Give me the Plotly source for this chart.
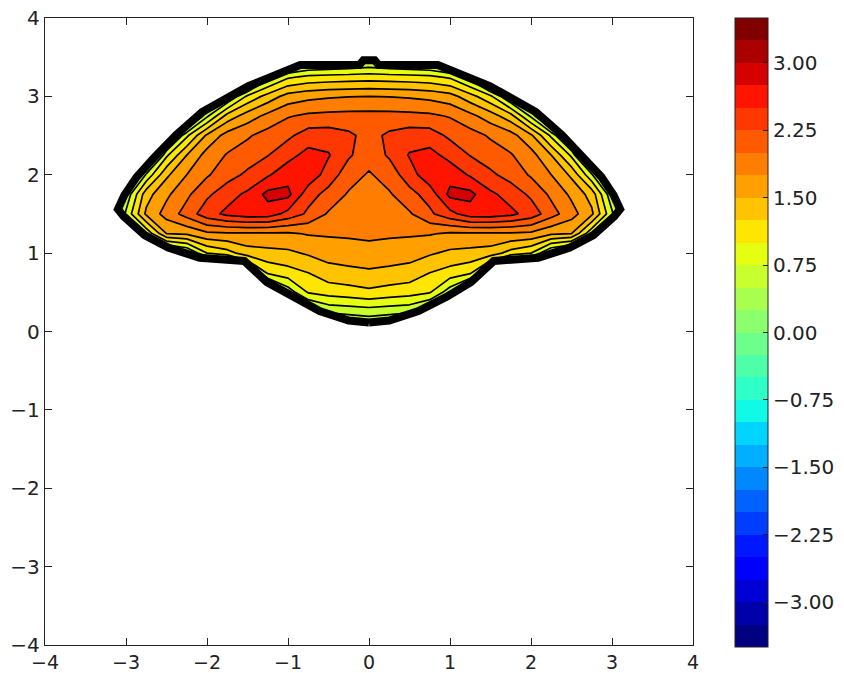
import numpy as np
import plotly.graph_objects as go

# ---------------- data ----------------
x_grid = [-3.5, -3.25, -3.0, -2.75, -2.5, -2.25, -2.0, -1.75, -1.5, -1.25, -1.0, -0.75, -0.5, -0.25, 0.0,
          0.25, 0.5, 0.75, 1.0, 1.25, 1.5, 1.75, 2.0, 2.25, 2.5, 2.75, 3.0, 3.25, 3.5]
y_grid = [-0.25, 0.0, 0.25, 0.5, 0.75, 1.0, 1.25, 1.5, 1.75, 2.0, 2.25, 2.5, 2.75, 3.0, 3.25, 3.5, 3.75]

z_row_m025 = [-1.8, -1.8, -1.8, -1.8, -1.8, -1.8, -1.8, -1.8, -1.8, -1.8, -1.8, -1.8, -1.8, -1.8, -1.8,
              -1.8, -1.8, -1.8, -1.8, -1.8, -1.8, -1.8, -1.8, -1.8, -1.8, -1.8, -1.8, -1.8, -1.8]
z_row_000 = [-1.8, -1.8, -1.8, -1.8, -1.8, -1.8, -1.8, -1.8, -1.8, -1.8, -1.8, -0.8, -0.5, 0.0, 0.1,
             0.0, -0.5, -0.8, -1.8, -1.8, -1.8, -1.8, -1.8, -1.8, -1.8, -1.8, -1.8, -1.8, -1.8]
z_row_025 = [-1.8, -1.8, -1.8, -1.8, -1.8, -1.8, -1.8, -1.8, -1.8, -1.0, -0.4, 0.3, 0.55, 0.58, 0.62,
             0.58, 0.55, 0.3, -0.4, -1.0, -1.8, -1.8, -1.8, -1.8, -1.8, -1.8, -1.8, -1.8, -1.8]
z_row_050 = [-1.8, -1.8, -1.8, -1.8, -1.8, -1.8, -1.8, -1.8, -1.0, 0.0, 0.6, 1.02, 1.1, 1.15, 1.2,
             1.15, 1.1, 1.02, 0.6, 0.0, -1.0, -1.8, -1.8, -1.8, -1.8, -1.8, -1.8, -1.8, -1.8]
z_row_075 = [-1.8, -1.8, -1.8, -1.8, -1.8, -1.2, -0.6, -0.5, 0.35, 1.05, 1.15, 1.25, 1.4, 1.42, 1.45,
             1.42, 1.4, 1.25, 1.15, 1.05, 0.35, -0.5, -0.6, -1.2, -1.8, -1.8, -1.8, -1.8, -1.8]
z_row_100 = [-1.8, -1.8, -1.8, -1.0, 0.2, 0.45, 1.0, 1.15, 1.38, 1.42, 1.45, 1.53, 1.6, 1.66, 1.7,
             1.66, 1.6, 1.53, 1.45, 1.42, 1.38, 1.15, 1.0, 0.45, 0.2, -1.0, -1.8, -1.8, -1.8]
z_row_125 = [-1.8, -1.2, -0.5, 0.8, 1.5, 1.55, 1.7, 1.72, 1.72, 1.72, 1.72, 1.77, 1.78, 1.78, 1.78,
             1.78, 1.78, 1.77, 1.72, 1.72, 1.72, 1.72, 1.7, 1.55, 1.5, 0.8, -0.5, -1.2, -1.8]
z_row_150 = [-1.8, -0.27, 0.8, 1.55, 1.85, 2.1, 2.4, 2.56, 2.64, 2.63, 2.42, 2.2, 1.97, 1.88, 1.85,
             1.88, 1.97, 2.2, 2.42, 2.63, 2.64, 2.56, 2.4, 2.1, 1.85, 1.55, 0.8, -0.27, -1.8]
z_row_175 = [-1.8, -0.6, 0.55, 1.4, 1.7, 1.95, 2.2, 2.4, 2.55, 2.82, 2.82, 2.35, 2.17, 1.97, 1.93,
             1.97, 2.17, 2.35, 2.82, 2.82, 2.55, 2.4, 2.2, 1.95, 1.7, 1.4, 0.55, -0.6, -1.8]
z_row_200 = [-1.8, -1.8, -0.6, 0.8, 1.45, 1.75, 1.97, 2.15, 2.3, 2.47, 2.65, 2.68, 2.38, 2.12, 1.97,
             2.12, 2.38, 2.68, 2.65, 2.47, 2.3, 2.15, 1.97, 1.75, 1.45, 0.8, -0.6, -1.8, -1.8]
z_row_225 = [-1.8, -1.8, -1.8, -0.3, 0.95, 1.5, 1.85, 2.02, 2.12, 2.24, 2.42, 2.58, 2.52, 2.28, 2.12,
             2.28, 2.52, 2.58, 2.42, 2.24, 2.12, 2.02, 1.85, 1.5, 0.95, -0.3, -1.8, -1.8, -1.8]
z_row_250 = [-1.8, -1.8, -1.8, -1.0, 0.1, 0.95, 1.55, 1.85, 1.97, 2.1, 2.2, 2.37, 2.38, 2.3, 2.16,
             2.3, 2.38, 2.37, 2.2, 2.1, 1.97, 1.85, 1.55, 0.95, 0.1, -1.0, -1.8, -1.8, -1.8]
z_row_275 = [-1.8, -1.8, -1.8, -1.8, -1.0, -0.3, 0.7, 1.35, 1.62, 1.82, 1.98, 2.05, 2.07, 2.08, 2.08,
             2.08, 2.07, 2.05, 1.98, 1.82, 1.62, 1.35, 0.7, -0.3, -1.0, -1.8, -1.8, -1.8, -1.8]
z_row_300 = [-1.8, -1.8, -1.8, -1.8, -1.8, -1.8, -0.4, 0.45, 1.05, 1.35, 1.6, 1.68, 1.72, 1.74, 1.75,
             1.74, 1.72, 1.68, 1.6, 1.35, 1.05, 0.45, -0.4, -1.8, -1.8, -1.8, -1.8, -1.8, -1.8]
z_row_325 = [-1.8, -1.8, -1.8, -1.8, -1.8, -1.8, -1.8, -0.8, -0.2, 0.62, 0.95, 1.05, 1.08, 1.1, 1.12,
             1.1, 1.08, 1.05, 0.95, 0.62, -0.2, -0.8, -1.8, -1.8, -1.8, -1.8, -1.8, -1.8, -1.8]
z_row_350 = [-1.8, -1.8, -1.8, -1.8, -1.8, -1.8, -1.8, -1.8, -1.8, -0.5, -0.1, 0.15, 0.2, 0.25, 0.35,
             0.25, 0.2, 0.15, -0.1, -0.5, -1.8, -1.8, -1.8, -1.8, -1.8, -1.8, -1.8, -1.8, -1.8]
z_row_375 = [-1.8, -1.8, -1.8, -1.8, -1.8, -1.8, -1.8, -1.8, -1.8, -1.8, -1.8, -1.8, -1.5, -1.2, -0.9,
             -1.2, -1.5, -1.8, -1.8, -1.8, -1.8, -1.8, -1.8, -1.8, -1.8, -1.8, -1.8, -1.8, -1.8]

# outline of the filled region (centre of the thick black rim), clockwise from bottom centre
outline_x = [0.0, -0.15, -0.25, -0.61, -0.97, -1.26, -1.54, -2.09, -2.48, -2.77, -3.03, -3.1, -3.02,
             -2.87, -2.66, -2.38, -2.06, -1.7, -1.49, -1.18, -0.85, -0.12, -0.07, 0.07, 0.12,
             0.85, 1.18, 1.49, 1.7, 2.06, 2.38, 2.66, 2.87, 3.02, 3.1, 3.03, 2.77, 2.48, 2.09,
             1.54, 1.26, 0.97, 0.61, 0.25, 0.15, 0.0]
outline_y = [0.115, 0.12, 0.14, 0.26, 0.45, 0.63, 0.9, 0.94, 1.07, 1.23, 1.47, 1.56, 1.74,
             1.97, 2.21, 2.51, 2.8, 3.01, 3.13, 3.26, 3.4, 3.4, 3.46, 3.46, 3.4,
             3.4, 3.26, 3.13, 3.01, 2.8, 2.51, 2.21, 1.97, 1.74, 1.56, 1.47, 1.23, 1.07, 0.94,
             0.9, 0.63, 0.45, 0.26, 0.14, 0.12, 0.115]

level_start = -3.25
level_end = 3.25
level_step = 0.25
cbar_min = -3.5
cbar_max = 3.5
cbar_tickvals = [-3.0, -2.25, -1.5, -0.75, 0.0, 0.75, 1.5, 2.25, 3.0]
cbar_ticktext = ["\u22123.00", "\u22122.25", "\u22121.50", "\u22120.75", "0.00", "0.75", "1.50", "2.25", "3.00"]
axis_range = [-4, 4]
axis_tickvals = [-4, -3, -2, -1, 0, 1, 2, 3, 4]

# ---------------- styling ----------------
z_grid = [z_row_m025, z_row_000, z_row_025, z_row_050, z_row_075, z_row_100, z_row_125, z_row_150,
          z_row_175, z_row_200, z_row_225, z_row_250, z_row_275, z_row_300, z_row_325, z_row_350,
          z_row_375]


def jet(v):
    r = np.interp(v, [0, 0.35, 0.66, 0.89, 1], [0, 0, 1, 1, 0.5])
    g = np.interp(v, [0, 0.125, 0.375, 0.64, 0.91, 1], [0, 0, 1, 1, 0, 0])
    b = np.interp(v, [0, 0.11, 0.34, 0.65, 1], [0.5, 1, 1, 0, 0])
    return "rgb(%d,%d,%d)" % (round(r * 255), round(g * 255), round(b * 255))


n_bands = int(round((cbar_max - cbar_min) / level_step))
band_colors = [jet(j / (n_bands - 1)) for j in range(n_bands)]
contour_scale = [[j / (n_bands - 1), band_colors[j]] for j in range(n_bands)]
cbar_scale = []
for j in range(n_bands):
    cbar_scale.append([j / n_bands, band_colors[j]])
    cbar_scale.append([(j + 1) / n_bands, band_colors[j]])

FONT = "DejaVu Sans"
FS = 20
ML, MR, MT, MB = 45, 151, 18, 28
PW = 844 - ML - MR
PH = 673 - MT - MB

fig = go.Figure()
fig.add_trace(go.Contour(
    x=x_grid, y=y_grid, z=z_grid,
    autocontour=False,
    contours=dict(start=level_start, end=level_end, size=level_step, coloring="fill", showlines=True),
    colorscale=contour_scale,
    line=dict(color="black", width=1.7, smoothing=0),
    showscale=False,
    hoverinfo="skip",
))

# white mask outside the region (rectangle with the outline cut out)
mask_x = [0, axis_range[1], axis_range[1], axis_range[0], axis_range[0], 0] + outline_x + [0]
mask_y = [axis_range[0], axis_range[0], axis_range[1], axis_range[1], axis_range[0], axis_range[0]] + outline_y + [axis_range[0]]
fig.add_trace(go.Scatter(
    x=mask_x, y=mask_y, mode="lines", fill="toself", fillcolor="white",
    line=dict(width=0, color="white"), hoverinfo="skip", showlegend=False,
))
fig.add_trace(go.Scatter(
    x=outline_x, y=outline_y, mode="lines",
    line=dict(color="black", width=8), hoverinfo="skip", showlegend=False,
))

# colorbar
fig.add_trace(go.Scatter(
    x=[None], y=[None], mode="markers", showlegend=False, hoverinfo="skip",
    marker=dict(
        color=[cbar_min, cbar_max], cmin=cbar_min, cmax=cbar_max, colorscale=cbar_scale, showscale=True,
        colorbar=dict(
            x=(735 - ML) / PW, xanchor="left", xpad=0,
            y=(673 - MB - 332.5) / PH, yanchor="middle", ypad=0,
            len=629, lenmode="pixels", thickness=33, thicknessmode="pixels",
            outlinewidth=1, outlinecolor="#222",
            tickmode="array", tickvals=cbar_tickvals, ticktext=cbar_ticktext,
            ticks="inside", ticklen=5, tickcolor="#222", tickwidth=1,
            tickfont=dict(family=FONT, size=FS, color="#222"),
        ),
    ),
))

axis_common = dict(
    range=axis_range, tickmode="array", tickvals=axis_tickvals, automargin=False,
    showgrid=False, zeroline=False, showline=True, linecolor="#222", linewidth=1.3,
    mirror="ticks", ticks="inside", ticklen=7, tickcolor="#222", tickwidth=1,
)
fig.update_xaxes(**axis_common, tickfont=dict(family=FONT, size=FS - 1, color="#222"))
fig.update_yaxes(**axis_common, tickfont=dict(family=FONT, size=FS, color="#222"))

fig.update_layout(
    width=844, height=673,
    margin=dict(l=ML, r=MR, t=MT, b=MB, autoexpand=False),
    paper_bgcolor="white", plot_bgcolor="white",
    font=dict(family=FONT, size=FS, color="#222"),
    showlegend=False,
)

fig.write_html(
    "out.html",
    config={"displayModeBar": False},
    post_script="document.body.style.margin='0px'; document.body.style.overflow='hidden';",
)
